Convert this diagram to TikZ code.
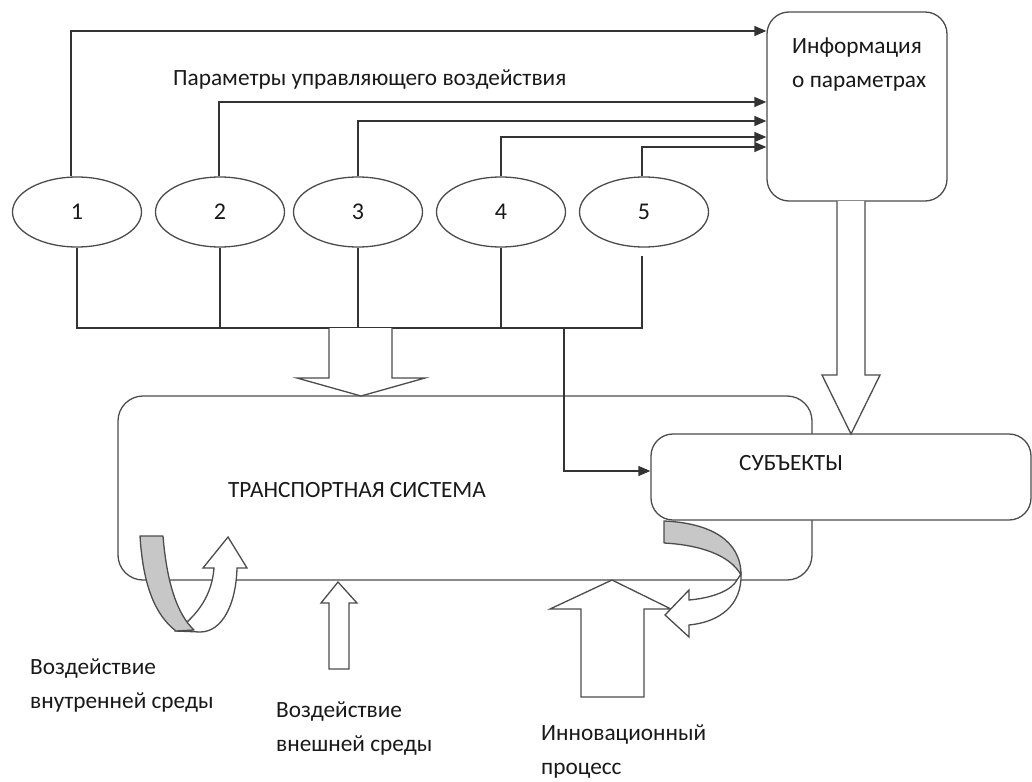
\documentclass[tikz,border=0pt]{standalone}
\usepackage{fontspec}
\setmainfont{Carlito}
\usetikzlibrary{shapes.geometric,arrows.meta}
\begin{document}
\begin{tikzpicture}[x=1pt,y=-1pt,
 outline/.style={draw=black!70,line width=1.3pt},
 conn/.style={draw=black!80,line width=1.3pt},
 arr/.style={conn,-{Triangle[length=12pt,width=10pt]}},
 txt/.style={font=\fontsize{23.3}{34}\selectfont,inner sep=0pt,text=black!90},
 oval/.style={ellipse,outline,minimum width=129pt,minimum height=70pt,inner sep=0pt,font=\fontsize{24}{35}\selectfont,text=black!90},
 rbox/.style={outline,rounded corners=22pt,fill=white,inner sep=0pt},
 hollow/.style={outline,fill=white,line join=miter},
 band/.style={outline,fill=black!22,line join=round},
]
\useasboundingbox (0,0) rectangle (1032,781);

% ellipses
\node[oval] (e1) at (77,212) {1};
\node[oval] (e2) at (220,212) {2};
\node[oval] (e3) at (358,212) {3};
\node[oval] (e4) at (501,212) {4};
\node[oval] (e5) at (644,212) {5};

% information box
\node[rbox,minimum width=180pt,minimum height=189pt] (info) at (857,106.5) {};
\node[txt,align=left,anchor=west] (infot) at (792,64.5) {Информация\\о параметрах};

% label of control parameters
\node[txt,anchor=west] (par) at (173,80) {Параметры управляющего воздействия};

% top connectors
\coordinate (l1) at (0,31);
\coordinate (l2) at (0,102);
\coordinate (l3) at (0,121);
\coordinate (l4) at (0,137);
\coordinate (l5) at (0,147);
\draw[arr] ([xshift=-6pt]e1.north) |- (info.west|-l1);
\draw[arr] ([xshift=-1pt]e2.north) |- (info.west|-l2);
\draw[arr] (e3.north) |- (info.west|-l3);
\draw[arr] (e4.north) |- (info.west|-l4);
\draw[arr] ([xshift=-2pt]e5.north) |- (info.west|-l5);

% bus
\coordinate (busy) at (0,328);
\coordinate (tap) at (564,328);
\draw[conn] (e1.south) -- (e1.south|-busy) -- ([xshift=-2pt]e5.south|-busy) -- ([xshift=-2pt,yshift=-8pt]e5.south);
\draw[conn] (e2.south) -- (e2.south|-busy);
\draw[conn] (e3.south) -- (e3.south|-busy);
\draw[conn] (e4.south) -- (e4.south|-busy);

% transport system and subjects
\node[rbox,rounded corners=25pt,minimum width=694pt,minimum height=184pt] (ts) at (465,488) {};
\node[txt] (tst) at (357,490) {ТРАНСПОРТНАЯ СИСТЕМА};
\node[rbox,minimum width=380pt,minimum height=86pt] (subj) at (841,477) {};
\node[txt] (subjt) at (791,463) {СУБЪЕКТЫ};

\draw[arr] (tap) |- ([yshift=6pt]subj.west);

% hollow arrows
\draw[hollow] (329,328) -- (329,378) -- (297,378) -- (361,396) -- (425,378) -- (392,378) -- (392,328);
\draw[hollow] (837,201) -- (837,375) -- (822,375) -- (851,434) -- (880,375) -- (865,375) -- (865,201);
\draw[hollow] (329,669) -- (329,603) -- (321,603) -- (338,582) -- (357,603) -- (349,603) -- (349,669) -- cycle;
\draw[hollow] (581,697) -- (581,609) -- (550,609) -- (612,580) -- (671,609) -- (644,609) -- (644,697) -- cycle;

% left U-turn arrow
\draw[hollow] (176,631) .. controls (198,615) and (212,595) .. (214,568) -- (203,568) -- (228,537) -- (247,568) -- (237,568) .. controls (236,605) and (222,632) .. (200,632) -- cycle;
\draw[band] (140,536) -- (163,536) .. controls (167,585) and (178,615) .. (194,630) -- (176,631) .. controls (155,615) and (143,585) .. (140,536) -- cycle;

% right curved arrow
\draw[hollow] (741,574) .. controls (742,605) and (720,622) .. (689,625) -- (689,637) -- (665,615) -- (689,590) -- (689,600) .. controls (713,598) and (732,590) .. (737,580) -- cycle;
\draw[band] (664,521) .. controls (710,523) and (741,540) .. (741,575) .. controls (730,555) and (700,545) .. (664,543) -- cycle;

% bottom labels
\node[txt,align=left,anchor=west] (inner) at (30,685.5) {Воздействие\\внутренней среды};
\node[txt,align=left,anchor=west] (outer) at (276,728.5) {Воздействие\\внешней среды};
\node[txt,align=left,anchor=west] (innov) at (541,752) {Инновационный\\процесс};
\end{tikzpicture}
\end{document}
